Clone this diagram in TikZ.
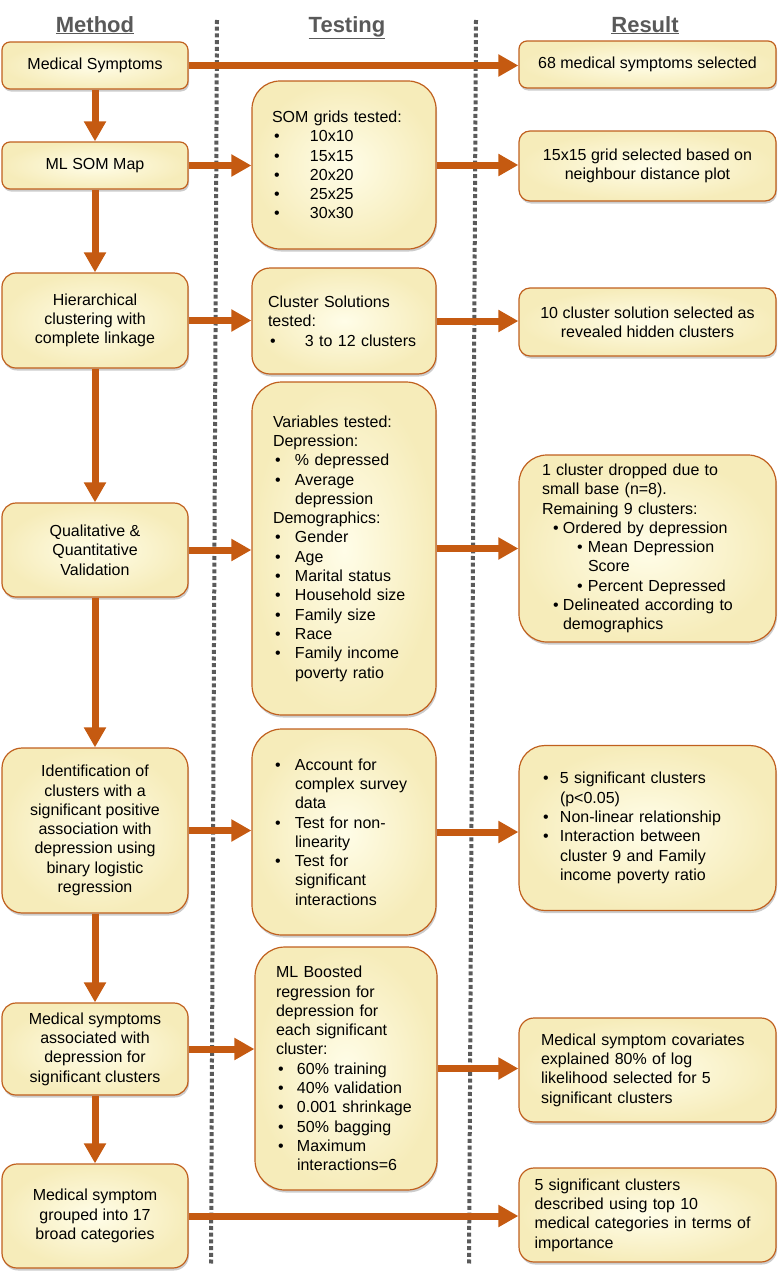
\documentclass[tikz,border=0pt]{standalone}
\usepackage{fontspec}
\setmainfont{Liberation Sans}
\usetikzlibrary{arrows.meta,shadows}

\definecolor{arrorange}{RGB}{197,90,17}
\definecolor{edgeorange}{RGB}{192,96,30}
\definecolor{fillin}{RGB}{255,253,232}
\definecolor{fillout}{RGB}{246,236,186}
\definecolor{headgray}{RGB}{89,89,89}
\definecolor{divgray}{RGB}{90,90,90}

% bullet line: bullet near the left, text after #1
\newcommand{\itm}[2][22pt]{\makebox[#1][l]{\hspace{2pt}\textbullet}#2}

\begin{document}
\begin{tikzpicture}[x=1pt,y=-1pt,>={Triangle[length=20pt,width=21pt]},
    panel/.style={draw=edgeorange, line width=1.2pt, rounded corners=#1,
        inner color=fillin, outer color=fillout,
        drop shadow={shadow xshift=1pt,shadow yshift=-2.5pt,opacity=0.4},
        inner sep=0pt, font=\fontsize{16}{19.3}\selectfont},
    panel/.default=10pt,
    meth/.style={panel=#1, minimum width=186pt, align=center},
    meth/.default=8pt,
    test/.style={panel=#1, minimum width=184pt, align=left},
    test/.default=28pt,
    res/.style={panel=#1, minimum width=257pt},
    res/.default=8pt,
    head/.style={font=\fontsize{22}{26}\selectfont\bfseries, text=headgray, anchor=base},
    flowarrow/.style={->, line width=7pt, draw=arrorange},
    divider/.style={draw=divgray, line width=4pt, dash pattern=on 4pt off 2.7pt}]
    \useasboundingbox (0,0) rectangle (778,1274);

    % column titles
    \node[head] (hM) at (95,32) {\underline{Method}};
    \node[head] (hT) at (347,32) {\underline{Testing}};
    \node[head] (hR) at (645,32) {\underline{Result}};

    \draw[divider] (217,20) -- (211,1266);
    \draw[divider] (476,20) -- (469,1266);

    % method
    \node[meth, minimum height=47pt] (MS) at (95,65.5) {Medical Symptoms};
    \node[meth, minimum height=47pt] (SOM) at (95,165.5) {ML SOM Map};
    \node[meth=14pt, minimum height=95pt] (HC) at (95,320.5) {Hierarchical\\clustering with\\complete linkage};
    \node[meth=14pt, minimum height=94pt] (QV) at (95,550) {Qualitative \&\\Quantitative\\Validation};
    \node[meth=20pt, minimum height=165pt] (ID) at (95,830.5) {Identification of\\clusters with a\\significant positive\\association with\\depression using\\binary logistic\\regression};
    \node[meth=14pt, minimum height=92pt] (MSD) at (95,1049) {Medical symptoms\\associated with\\depression for\\significant clusters};
    \node[meth=15pt, minimum height=104pt] (MSG) at (95,1216) {Medical symptom\\grouped into 17\\broad categories};

    % testing
    \node[test, minimum height=168pt, text width=144pt] (GRID) at (344,165) {SOM grids tested:\\\itm[38pt]{10x10}\\\itm[38pt]{15x15}\\\itm[38pt]{20x20}\\\itm[38pt]{25x25}\\\itm[38pt]{30x30}};
    \node[test=18pt, minimum height=106pt, text width=152pt] (CS) at (344,321) {Cluster Solutions\\tested:\\\itm[37pt]{3 to 12 clusters}};
    \node[test=30pt, minimum height=333pt, text width=142pt] (VAR) at (344,548.5) {Variables tested:\\Depression:\\\itm{\% depressed}\\\itm{Average}\\\hspace*{22pt}depression\\Demographics:\\\itm{Gender}\\\itm{Age}\\\itm{Marital status}\\\itm{Household size}\\\itm{Family size}\\\itm{Race}\\\itm{Family income}\\\hspace*{22pt}poverty ratio};
    \node[test=30pt, minimum height=206pt, text width=142pt] (SURV) at (344,832) {\itm{Account for}\\\hspace*{22pt}complex survey\\\hspace*{22pt}data\\\itm{Test for non-}\\\hspace*{22pt}linearity\\\itm{Test for}\\\hspace*{22pt}significant\\\hspace*{22pt}interactions};
    \node[test=30pt, minimum width=182pt, minimum height=243pt, text width=140pt] (BOOST) at (346,1068.5) {ML Boosted\\regression for\\depression for\\each significant\\cluster:\\\itm[21pt]{60\% training}\\\itm[21pt]{40\% validation}\\\itm[21pt]{0.001 shrinkage}\\\itm[21pt]{50\% bagging}\\\itm[21pt]{Maximum}\\\hspace*{21pt}interactions=6};

    % result
    \node[res, minimum height=47pt, align=center] (R68) at (647.5,64.5) {68 medical symptoms selected};
    \node[res=11pt, minimum height=70pt, align=center] (R15) at (647.5,166) {15x15 grid selected based on\\neighbour distance plot};
    \node[res=11pt, minimum height=68pt, align=center] (R10) at (647.5,322) {10 cluster solution selected as\\revealed hidden clusters};
    \node[res=28pt, minimum height=187pt, align=left, text width=211pt] (R9) at (647.5,548.5) {1 cluster dropped due to\\small base (n=8).\\Remaining 9 clusters:\\\hspace*{9pt}\itm[12pt]{Ordered by depression}\\\hspace*{33pt}\itm[13pt]{Mean Depression}\\\hspace*{46pt}Score\\\hspace*{33pt}\itm[13pt]{Percent Depressed}\\\hspace*{9pt}\itm[12pt]{Delineated according to}\\\hspace*{21pt}demographics};
    \node[res=26pt, minimum height=165pt, align=left, text width=213pt] (R5) at (647.5,828) {\itm[19pt]{5 significant clusters}\\\hspace*{19pt}(p<0.05)\\\itm[19pt]{Non-linear relationship}\\\itm[19pt]{Interaction between}\\\hspace*{19pt}cluster 9 and Family\\\hspace*{19pt}income poverty ratio};
    \node[res=15pt, minimum height=104pt, align=left, text width=213pt] (RCOV) at (647.5,1070) {Medical symptom covariates\\explained 80\% of log\\likelihood selected for 5\\significant clusters};
    \node[res=15pt, minimum height=94pt, align=left, text width=226pt] (RTOP) at (647.5,1215) {5 significant clusters\\described using top 10\\medical categories in terms of\\importance};

    % arrows down the method column
    \draw[flowarrow] (MS) -- (SOM);
    \draw[flowarrow] (SOM) -- (HC);
    \draw[flowarrow] (HC) -- (QV);
    \draw[flowarrow] (QV) -- (ID);
    \draw[flowarrow] (ID) -- (MSD);
    \draw[flowarrow] (MSD) -- (MSG);

    % arrows across
    \draw[flowarrow] (MS.east) -- (MS.east -| R68.west);
    \draw[flowarrow] (SOM.east) -- (SOM.east -| GRID.west);
    \draw[flowarrow] (GRID.east) -- (GRID.east -| R15.west);
    \draw[flowarrow] (HC.east) -- (HC.east -| CS.west);
    \draw[flowarrow] (CS.east) -- (CS.east -| R10.west);
    \draw[flowarrow] (QV.east) -- (QV.east -| VAR.west);
    \draw[flowarrow] (VAR.east) -- (VAR.east -| R9.west);
    \draw[flowarrow] (ID.east) -- (ID.east -| SURV.west);
    \draw[flowarrow] (SURV.east) -- (SURV.east -| R5.west);
    \draw[flowarrow] (MSD.east) -- (MSD.east -| BOOST.west);
    \draw[flowarrow] (BOOST.east) -- (BOOST.east -| RCOV.west);
    \draw[flowarrow] (MSG.east) -- (MSG.east -| RTOP.west);
\end{tikzpicture}
\end{document}
